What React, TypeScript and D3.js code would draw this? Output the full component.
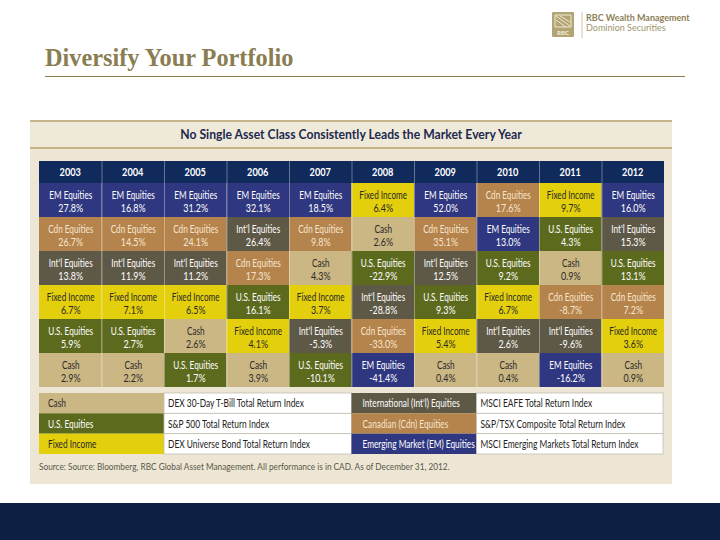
import React from "react";
import * as d3 from "d3";

const years = ["2003", "2004", "2005", "2006", "2007", "2008", "2009", "2010", "2011", "2012"];
const assetClasses = ["Cash", "U.S. Equities", "Fixed Income", "Int'l Equities", "Cdn Equities", "EM Equities"];
const cashReturns = [2.9, 2.2, 2.6, 3.9, 4.3, 2.6, 0.4, 0.4, 0.9, 0.9];
const usReturns = [5.9, 2.7, 1.7, 16.1, -10.1, -22.9, 9.3, 9.2, 4.3, 13.1];
const fixedReturns = [6.7, 7.1, 6.5, 4.1, 3.7, 6.4, 5.4, 6.7, 9.7, 3.6];
const intlReturns = [13.8, 11.9, 11.2, 26.4, -5.3, -28.8, 12.5, 2.6, -9.6, 15.3];
const cdnReturns = [26.7, 14.5, 24.1, 17.3, 9.8, -33.0, 35.1, 17.6, -8.7, 7.2];
const emReturns = [27.8, 16.8, 31.2, 32.1, 18.5, -41.4, 52.0, 13.0, -16.2, 16.0];
const returnsByClass = [cashReturns, usReturns, fixedReturns, intlReturns, cdnReturns, emReturns];

const legendLabels = ["Cash", "U.S. Equities", "Fixed Income", "International (Int'l) Equities", "Canadian (Cdn) Equities", "Emerging Market (EM) Equities"];
const legendIndexes = [
  "DEX 30-Day T-Bill Total Return Index",
  "S&P 500 Total Return Index",
  "DEX Universe Bond Total Return Index",
  "MSCI EAFE Total Return Index",
  "S&P/TSX Composite Total Return Index",
  "MSCI Emerging Markets Total Return Index",
];

const slideTitle = "Diversify Your Portfolio";
const chartTitle = "No Single Asset Class Consistently Leads the Market Every Year";
const sourceText = "Source: Source: Bloomberg, RBC Global Asset Management. All performance is in CAD. As of December 31, 2012.";

const fillColor = d3
  .scaleOrdinal<string, string>()
  .domain(assetClasses)
  .range(["#cbb784", "#5c6a1d", "#e3cf0b", "#5e5846", "#b5834c", "#2e3780"]);
const textColor = d3
  .scaleOrdinal<string, string>()
  .domain(assetClasses)
  .range(["#2a2a2a", "#ffffff", "#2a2a2a", "#ffffff", "#f6e6cf", "#ffffff"]);

const FONT = "Lato, 'Open Sans', sans-serif";

const locale = d3.formatLocale({ decimal: ".", thousands: ",", grouping: [3], currency: ["$", ""], minus: "-" });

type CTProps = {
  x: number;
  y: number;
  sx: number;
  size: number;
  fill: string;
  anchor?: string;
  weight?: number;
  children: React.ReactNode;
};

function CText({ x, y, sx, size, fill, anchor = "start", weight = 400, children }: CTProps) {
  return (
    <text
      transform={`translate(${x},${y}) scale(${sx},1)`}
      textAnchor={anchor}
      fontSize={size}
      fontWeight={weight}
      fill={fill}
    >
      {children}
    </text>
  );
}

export default function App() {
  const x = d3.scaleBand<string>().domain(years).range([39, 664]).paddingInner(0);
  const rowIdx = d3.range(6).map(String);
  const y = d3.scaleBand<string>().domain(rowIdx).range([183, 387]);
  const legendY = d3.scaleBand<string>().domain(["0", "1", "2"]).range([393, 454]);
  const fmt = locale.format(".1f");

  const columns = years.map((yr, j) => {
    const entries = assetClasses.map((c, k) => ({ cls: c, v: returnsByClass[k][j] }));
    entries.sort((a, b) => d3.descending(a.v, b.v));
    return { yr, entries };
  });

  const bw = x.bandwidth();
  const rh = y.bandwidth();

  return (
    <svg
      width={720}
      height={540}
      style={{ position: "absolute", left: 0, top: 0, display: "block" }}
      fontFamily={FONT}
    >
      <rect x={0} y={0} width={720} height={540} fill="#ffffff" />

      {/* Logo */}
      <g>
        <rect x={552} y={12} width={22} height={25} fill="#b3a573" rx={1} />
        <path d="M555,15 L571,15 L571,27 L555,27 Z" fill="none" stroke="#efe9d6" strokeWidth={1} />
        <path d="M556,16 L570,26 M556,20 L566,27 M560,16 L570,22" stroke="#efe9d6" strokeWidth={1} />
        <text x={563} y={35} textAnchor="middle" fontSize={6} fontWeight={700} fill="#f5f0e0">RBC</text>
        <line x1={582} x2={582} y1={12} y2={38} stroke="#cfc6a6" strokeWidth={1} />
        <text x={586} y={21} fontSize={9} fontWeight={700} fill="#8d8058">RBC Wealth Management</text>
        <text x={586} y={31} fontSize={9} fill="#a0946c">Dominion Securities</text>
      </g>

      {/* Slide title */}
      <text x={45} y={66} fontFamily="'Liberation Serif', 'Times New Roman', serif" fontSize={24.3} fontWeight={700} fill="#8a7d52">
        {slideTitle}
      </text>
      <line x1={45} x2={685} y1={76.5} y2={76.5} stroke="#8a7d52" strokeWidth={1} />

      {/* Panel */}
      <rect x={30} y={120} width={642} height={364} fill="#ede6d5" />
      <rect x={30} y={121} width={642} height={27} fill="#efe9da" />
      <line x1={30} x2={672} y1={121} y2={121} stroke="#c5b487" strokeWidth={2} />
      <line x1={30} x2={672} y1={148} y2={148} stroke="#c5b487" strokeWidth={2} />
      <CText x={351} y={139} sx={0.87} size={14} weight={700} anchor="middle" fill="#1d2a4f">
        {chartTitle}
      </CText>

      {/* Header */}
      <rect x={39} y={161} width={625} height={22} fill="#102a5c" />
      {years.map((yr) => (
        <CText key={yr} x={(x(yr) as number) + bw / 2} y={176} sx={0.8} size={11.5} weight={700} anchor="middle" fill="#ffffff">
          {yr}
        </CText>
      ))}

      {/* Cells */}
      {columns.map((col) =>
        col.entries.map((e, i) => {
          const cx = x(col.yr) as number;
          const cy = y(String(i)) as number;
          return (
            <g key={col.yr + e.cls}>
              <rect x={cx} y={cy} width={bw} height={rh} fill={fillColor(e.cls)} />
              <CText x={cx + bw / 2 + 0.5} y={cy + 16} sx={0.78} size={10.5} anchor="middle" fill={textColor(e.cls)}>
                {e.cls}
              </CText>
              <CText x={cx + bw / 2 + 0.5} y={cy + 28.5} sx={0.85} size={10.5} anchor="middle" fill={textColor(e.cls)}>
                {fmt(e.v) + "%"}
              </CText>
            </g>
          );
        })
      )}
      {years.slice(1).map((yr) => (
        <line key={"sep" + yr} x1={(x(yr) as number) + 0.5} x2={(x(yr) as number) + 0.5} y1={161} y2={387} stroke="#ffffff" strokeOpacity={0.35} strokeWidth={1} />
      ))}

      {/* Legend */}
      {assetClasses.map((c, k) => {
        const side = k < 3 ? 0 : 1;
        const r = String(k % 3);
        const ly = legendY(r) as number;
        const lh = legendY.bandwidth();
        const labelX0 = side === 0 ? (x("2003") as number) : (x("2008") as number);
        const labelX1 = side === 0 ? (x("2005") as number) : (x("2010") as number);
        const idxX1 = side === 0 ? (x("2008") as number) : (x("2012") as number) + bw - 1;
        return (
          <g key={"leg" + c}>
            <rect x={labelX0} y={ly} width={labelX1 - labelX0} height={lh} fill={fillColor(c)} />
            <rect x={labelX1} y={ly} width={idxX1 - labelX1} height={lh} fill="#ffffff" stroke="#c2bdb0" strokeWidth={0.8} />
            <CText x={labelX0 + (side === 0 ? 9 : 11)} y={ly + lh / 2 + 4} sx={0.79} size={10.5} fill={textColor(c)}>
              {legendLabels[k]}
            </CText>
            <CText x={labelX1 + 4} y={ly + lh / 2 + 4} sx={0.8} size={10.5} fill="#222222">
              {legendIndexes[k]}
            </CText>
          </g>
        );
      })}

      <CText x={39} y={470} sx={0.92} size={9} fill="#5a5648">
        {sourceText}
      </CText>

      {/* Bottom band */}
      <rect x={0} y={503} width={720} height={37} fill="#0b2042" />
    </svg>
  );
}
